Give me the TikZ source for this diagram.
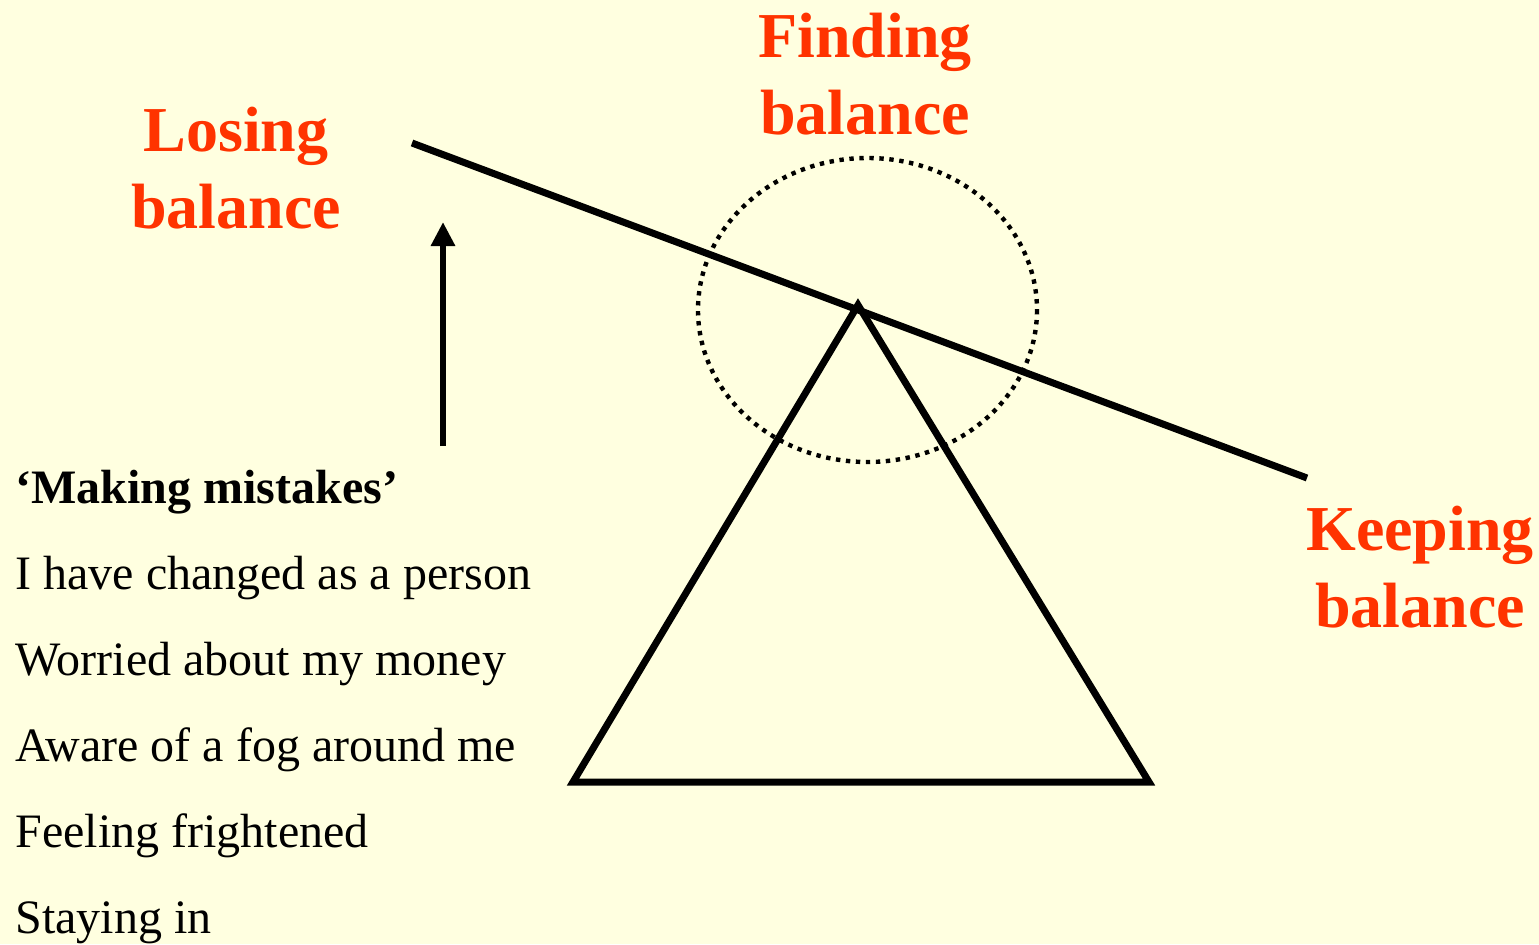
\documentclass[tikz,border=0pt]{standalone}
\usepackage{fontspec}
\setmainfont{Liberation Serif}
\usetikzlibrary{arrows.meta}
\definecolor{bg}{RGB}{255,255,224}
\definecolor{lab}{RGB}{255,51,0}
\tikzset{
  redlab/.style={anchor=base, inner sep=0pt, text=lab, font=\fontsize{32}{38}\selectfont\bfseries},
  listitem/.style={anchor=base west, inner sep=0pt, font=\fontsize{24}{28}\selectfont},
  heavy/.style={line width=3.5pt},
  dotring/.style={line width=2.2pt, dash pattern=on 2.2pt off 2.8pt},
}
\begin{document}
\begin{tikzpicture}[x=0.5pt, y=-0.5pt]
\fill[bg] (0,0) rectangle (1539,944);
\useasboundingbox (0,0) rectangle (1539,944);

% beam and fulcrum
\coordinate (beamL) at (412,143);
\coordinate (beamR) at (1307,478);
\coordinate (apex) at (858,305);
\coordinate (baseL) at (573,782);
\coordinate (baseR) at (1149,782);
\draw[dotring] (867.5,310) ellipse [x radius=169.5, y radius=152];
\draw[heavy] (beamL) -- (beamR);
\draw[heavy, line join=miter] (apex) -- (baseL) -- (baseR) -- cycle;

% arrow
\coordinate (arrS) at (443,446);
\coordinate (arrE) at (443,222);
\draw[line width=3pt, -{Triangle[length=12pt, width=11.5pt]}] (arrS) -- (arrE);

% labels
\node[redlab] (los1) at (236,151) {Losing};
\node[redlab] (los2) at (236,228) {balance};
\node[redlab] (fin1) at (865,57) {Finding};
\node[redlab] (fin2) at (865,134) {balance};
\node[redlab] (kee1) at (1420,550) {Keeping};
\node[redlab] (kee2) at (1420,627) {balance};

% list
\node[listitem, font=\fontsize{24}{28}\selectfont\bfseries] (t0) at (15,503) {‘Making mistakes’};
\node[listitem] (t1) at (15,589) {I have changed as a person};
\node[listitem] (t2) at (15,675) {Worried about my money};
\node[listitem] (t3) at (15,761) {Aware of a fog around me};
\node[listitem] (t4) at (15,847) {Feeling frightened};
\node[listitem] (t5) at (15,933) {Staying in};
\end{tikzpicture}
\end{document}
